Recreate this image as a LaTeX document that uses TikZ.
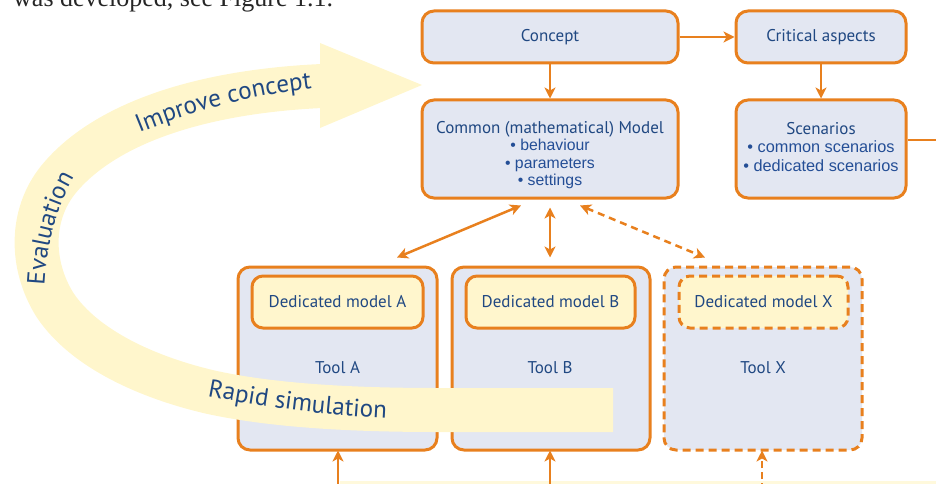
\documentclass[tikz,border=0pt]{standalone}
\usepackage{fontspec}
\setmainfont{Liberation Serif}
\newfontfamily\hfont{PT Sans}
\newfontfamily\bfont{Liberation Sans}
\usetikzlibrary{arrows.meta,decorations.text,calc}
\definecolor{org}{RGB}{232,128,30}
\definecolor{boxfill}{RGB}{227,231,242}
\definecolor{yel}{RGB}{255,246,205}
\definecolor{band}{RGB}{255,246,204}
\definecolor{tb}{RGB}{32,72,130}
\definecolor{tb2}{RGB}{36,78,150}
\newcommand\bandfont{\hfont\fontsize{25}{25}\selectfont}
\newcommand\bltm{\bfont\fontsize{15.8}{17.3}\selectfont\color{tb2}}
\newcommand\blts{\bfont\fontsize{16.3}{18}\selectfont\color{tb2}}
\tikzset{
  box/.style={draw=org, line width=3pt, fill=boxfill, rounded corners=12pt, inner sep=0pt,
    font=\hfont\fontsize{17}{18}\selectfont, text=tb},
  dbox/.style={box, fill=yel, rounded corners=11pt},
  dsh/.style={dash pattern=on 8pt off 5pt},
  txt/.style={inner sep=0pt, text=tb, font=\hfont\fontsize{17}{17.3}\selectfont, align=center},
  arr/.style={draw=org, line width=2.5pt, -{Stealth[length=11pt,width=11pt,inset=3pt]}},
  darr/.style={draw=org, line width=2.5pt, {Stealth[length=11pt,width=11pt,inset=3pt]}-{Stealth[length=11pt,width=11pt,inset=3pt]}},
  bandtext/.style={decorate, decoration={text along path, text align=center, text color=tb}}
}
\begin{document}
\begin{tikzpicture}[x=1pt,y=-1pt]
\useasboundingbox (0,0) rectangle (936,484);
\clip (0,0) rectangle (936,484);

% cropped document text
\node[anchor=base west, inner sep=0pt, font=\fontsize{26}{26}\selectfont, text=black!85] (cap) at (13,7) {was developed, see Figure 1.1.};

% faint box edge at bottom
\fill[yel!70] (340,481) rectangle (936,486);

% top boxes
\node[box, minimum width=256pt, minimum height=52pt] (concept) at (550,37) {Concept};
\node[box, minimum width=170pt, minimum height=52pt] (critical) at (821,37) {Critical aspects};
\node[box, minimum width=256pt, minimum height=98pt] (model) at (550,149) {};
\node[txt] (modeltxt) at (550,155) {Common (mathematical) Model\\{\bltm • behaviour}\\{\bltm • parameters}\\{\bltm • settings}};
\node[box, minimum width=170pt, minimum height=98pt] (scen) at (821,149) {};
\node[txt, font=\hfont\fontsize{17}{18.5}\selectfont] (scentxt) at (821,147) {Scenarios\\{\blts • common scenarios}\\{\blts • dedicated scenarios}};

% tool boxes
\node[box, minimum width=199pt, minimum height=183pt] (toolA) at (337.5,358.5) {};
\node[box, minimum width=198pt, minimum height=183pt] (toolB) at (551,358.5) {};
\node[box, dsh, minimum width=198pt, minimum height=183pt] (toolX) at (763,358.5) {};
\node[dbox, minimum width=171pt, minimum height=52pt] (dedA) at (337.5,302) {Dedicated model A};
\node[dbox, minimum width=169pt, minimum height=52pt] (dedB) at (550.5,302) {Dedicated model B};
\node[dbox, dsh, minimum width=169pt, minimum height=52pt] (dedX) at (763.5,302) {Dedicated model X};
\node[txt] (tA) at (337.5,368) {Tool A};
\node[txt] (tB) at (550,368) {Tool B};
\node[txt] (tX) at (763,368) {Tool X};

% connectors
\draw[arr] (concept) -- (critical);
\draw[arr] (concept) -- (model);
\draw[arr] (critical) -- (scen);
\coordinate (sceout) at (940,140);
\draw[org, line width=2.5pt] (scen.east |- sceout) -- (sceout);
\draw[darr] ($(model.south)+(-29,6)$) -- ($(toolA.north)+(59.5,-8)$);
\draw[darr] ($(model.south)+(0,8)$) -- ($(toolB.north)+(-1,-8)$);
\draw[darr, dash pattern=on 7pt off 5pt] ($(model.south)+(30,6)$) -- ($(toolX.north)+(-58,-8)$);
\coordinate (inA) at (338,490);
\coordinate (inB) at (550,490);
\coordinate (inX) at (762,490);
\draw[arr, shorten >=-1pt] (inA) -- (inA |- toolA.south) ;
\draw[arr, shorten >=-1pt] (inB) -- (inB |- toolB.south);
\draw[arr, dash pattern=on 7pt off 4pt, shorten >=-1pt] (inX) -- (inX |- toolX.south);

% big curved band arrow
\draw[band, line width=44pt, line join=round]
  (613,410) -- (437,410) .. controls (330,410) and (260,403) .. (210,392)
  .. controls (150,378) and (85,350) .. (55,305)
  .. controls (30,265) and (30,215) .. (58,180)
  .. controls (100,128) and (190,92) .. (322,86);
\fill[band] (320,43) -- (422,85) -- (320,128) -- cycle;

% band labels
\path[bandtext, decoration={text={|\bandfont|Improve concept}}]
  (118,142) .. controls (185,112) and (255,93) .. (335,86);
\path[bandtext, decoration={text={|\bandfont|Evaluation}}]
  (44,305) .. controls (44,255) and (53,205) .. (85,160);
\path[bandtext, decoration={text={|\bandfont|Rapid simulation}}]
  (192,393) .. controls (250,405) and (320,416) .. (402,419);
\end{tikzpicture}
\end{document}
